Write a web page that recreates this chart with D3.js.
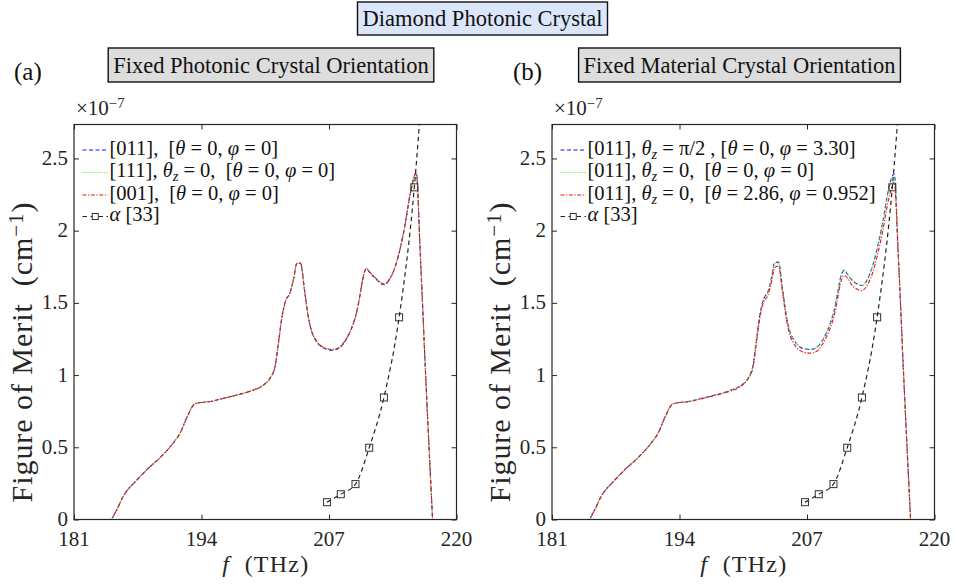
<!DOCTYPE html>
<html>
<head>
<meta charset="utf-8">
<script src="https://cdn.jsdelivr.net/npm/d3@7/dist/d3.min.js"></script>
<style>
  html, body { margin: 0; padding: 0; background: #fff; }
  svg { display: block; }
</style>
</head>
<body>
<svg id="chart" width="956" height="587"></svg>
<script>
// ---------------- DATA ----------------
const xTicks = [181, 194, 207, 220];
const yTicks = [0, 0.5, 1, 1.5, 2, 2.5];
const yTickLabels = ["0", "0.5", "1", "1.5", "2", "2.5"];

// frequency grid (THz) for the figure-of-merit curves
const freq = [181, 184.7, 185.3, 186.0, 187.4, 188.5, 189.8, 191.0, 191.8, 192.6, 193.3, 194.0, 194.9, 196.0,
  197.6, 199.0, 200.3, 201.0, 201.5, 201.8, 202.2, 202.6, 203.0, 203.4, 203.7, 204.1, 204.5, 204.9, 205.2,
  205.6, 206.1, 206.7, 207.3, 208.0, 208.5, 209.0, 209.5, 209.8, 210.1, 210.4, 210.8, 211.2, 211.5, 212.0,
  212.6, 213.2, 213.7, 214.2, 214.7, 215.3, 215.9, 216.3, 216.9, 217.56];

// panel (a): fixed photonic crystal orientation (x 1e-7 cm^-1)
const fomA011 = [0, 0, 0.06, 0.158, 0.273, 0.35, 0.43, 0.52, 0.596, 0.72, 0.80, 0.81, 0.817, 0.835,
  0.862, 0.89, 0.93, 0.98, 1.06, 1.20, 1.40, 1.52, 1.565, 1.67, 1.77, 1.775, 1.59, 1.40, 1.31,
  1.245, 1.202, 1.18, 1.172, 1.186, 1.22, 1.278, 1.36, 1.43, 1.53, 1.65, 1.737, 1.705, 1.685, 1.65,
  1.625, 1.665, 1.74, 1.86, 2.02, 2.26, 2.40, 1.85, 0.93, 0];
const fomA111 = [0, 0, 0.06, 0.158, 0.273, 0.35, 0.43, 0.52, 0.596, 0.72, 0.80, 0.81, 0.817, 0.835,
  0.862, 0.89, 0.93, 0.98, 1.06, 1.20, 1.40, 1.52, 1.565, 1.67, 1.77, 1.778, 1.59, 1.40, 1.31,
  1.25, 1.207, 1.185, 1.177, 1.19, 1.225, 1.282, 1.362, 1.43, 1.53, 1.65, 1.74, 1.71, 1.69, 1.655,
  1.63, 1.668, 1.742, 1.862, 2.02, 2.26, 2.402, 1.85, 0.93, 0];
const fomA001 = [0, 0, 0.06, 0.158, 0.273, 0.35, 0.43, 0.52, 0.596, 0.72, 0.80, 0.81, 0.817, 0.835,
  0.862, 0.89, 0.93, 0.98, 1.06, 1.20, 1.40, 1.52, 1.565, 1.67, 1.77, 1.776, 1.59, 1.40, 1.31,
  1.25, 1.207, 1.185, 1.177, 1.19, 1.225, 1.28, 1.36, 1.43, 1.53, 1.65, 1.738, 1.71, 1.69, 1.655,
  1.63, 1.668, 1.74, 1.86, 2.02, 2.26, 2.40, 1.85, 0.93, 0];

// panel (b): fixed material crystal orientation (x 1e-7 cm^-1)
const fomBpi2 = [0, 0, 0.06, 0.158, 0.273, 0.35, 0.43, 0.52, 0.596, 0.72, 0.80, 0.81, 0.817, 0.835,
  0.862, 0.89, 0.93, 0.98, 1.07, 1.22, 1.42, 1.53, 1.575, 1.68, 1.78, 1.782, 1.60, 1.41, 1.315,
  1.25, 1.205, 1.182, 1.177, 1.192, 1.232, 1.295, 1.385, 1.455, 1.56, 1.67, 1.725, 1.69, 1.665, 1.635,
  1.62, 1.67, 1.76, 1.89, 2.05, 2.28, 2.394, 1.85, 0.93, 0];
const fomB011 = [0, 0, 0.06, 0.158, 0.273, 0.35, 0.43, 0.52, 0.596, 0.72, 0.80, 0.81, 0.817, 0.835,
  0.862, 0.89, 0.93, 0.98, 1.065, 1.21, 1.41, 1.525, 1.57, 1.675, 1.772, 1.776, 1.595, 1.405, 1.315,
  1.252, 1.208, 1.186, 1.18, 1.195, 1.236, 1.298, 1.39, 1.46, 1.565, 1.675, 1.728, 1.695, 1.67, 1.64,
  1.622, 1.668, 1.755, 1.885, 2.045, 2.27, 2.38, 1.85, 0.93, 0];
const fomBrot = [0, 0, 0.06, 0.158, 0.273, 0.35, 0.43, 0.52, 0.596, 0.72, 0.80, 0.81, 0.815, 0.832,
  0.858, 0.885, 0.925, 0.975, 1.055, 1.20, 1.40, 1.51, 1.55, 1.65, 1.745, 1.755, 1.575, 1.385, 1.29,
  1.225, 1.18, 1.158, 1.152, 1.165, 1.205, 1.265, 1.35, 1.42, 1.52, 1.63, 1.69, 1.665, 1.63, 1.60,
  1.585, 1.63, 1.71, 1.835, 1.99, 2.21, 2.335, 1.83, 0.93, 0];

// alpha [33] reference points (last point only continues the dashed curve, clipped at axis top)
const alphaF = [206.8, 208.2, 209.7, 211.1, 212.6, 214.15, 215.7, 216.45];
const alphaV = [0.12, 0.175, 0.245, 0.497, 0.845, 1.40, 2.30, 2.95];

// ---------------- LAYOUT ----------------
const W = 382.5, H = 395, TOP = 124.5;
const yMax = 2.735;
const svg = d3.select("#chart");
const ink = "#262626";
const panels = [
  { ox: 74, id: "a", series: [fomA011, fomA111, fomA001] },
  { ox: 552, id: "b", series: [fomBpi2, fomB011, fomBrot] }
];
panels.forEach(p => {
  p.x = d3.scaleLinear().domain([181, 220]).range([p.ox, p.ox + W]);
  p.y = d3.scaleLinear().domain([0, yMax]).range([TOP + H, TOP]);
});

const seriesStyle = [
  { color: "#1010ff", dash: "4,2.5", width: 1.1 },
  { color: "#77ee44", dash: "1.2,1.2", width: 1.2 },
  { color: "#ee1111", dash: "4,1.6,1.2,1.6", width: 1.1 }
];
const rowOff = [25.5, 48, 70.5, 92];
const LX0 = 8.5, LX1 = 34;

// ---------------- TEXT ----------------
function addText(xp, yp, size, anchor) {
  return svg.append("text").attr("x", xp).attr("y", yp).attr("font-size", size)
    .attr("text-anchor", anchor || "start").attr("font-family", "Liberation Serif")
    .style("font-family", '"Liberation Serif"').style("white-space", "pre").style("fill", ink);
}
function rich(sel, parts) {
  parts.forEach(([t, s]) => {
    const ts = sel.append("tspan").text(t);
    if (s === "i") ts.style("font-style", "italic");
    if (s === "sub") ts.style("font-style", "italic").attr("font-size", "0.7em").attr("baseline-shift", "-0.25em");
    if (s === "sup") ts.attr("font-size", "0.7em").attr("baseline-shift", "0.45em");
  });
  return sel;
}

const headers = [
  { cx: 482.5, y0: 2, y1: 35, label: "Diamond Photonic Crystal", fill: "#dce6fa" },
  { cx: 271, y0: 48, y1: 82, label: "Fixed Photonic Crystal Orientation", fill: "#dddddd" },
  { cx: 739.5, y0: 48, y1: 82, label: "Fixed Material Crystal Orientation", fill: "#dddddd" }
];
headers.forEach(h => { h.node = addText(h.cx, h.y1 - 9, 22.5, "middle").style("fill", "#111").text(h.label); });
addText(14, 80, 25).style("fill", "#111").text("(a)");
addText(513, 80, 25).style("fill", "#111").text("(b)");

const legA = [
  [["[011],  [", ""], ["θ", "i"], [" = 0, ", ""], ["φ", "i"], [" = 0]", ""]],
  [["[111], ", ""], ["θ", "i"], ["z", "sub"], [" = 0,  [", ""], ["θ", "i"], [" = 0, ", ""], ["φ", "i"], [" = 0]", ""]],
  [["[001],  [", ""], ["θ", "i"], [" = 0, ", ""], ["φ", "i"], [" = 0]", ""]],
  [["α", "i"], [" [33]", ""]]
];
const legB = [
  [["[011], ", ""], ["θ", "i"], ["z", "sub"], [" = π/2 , [", ""], ["θ", "i"], [" = 0, ", ""], ["φ", "i"], [" = 3.30]", ""]],
  [["[011], ", ""], ["θ", "i"], ["z", "sub"], [" = 0,  [", ""], ["θ", "i"], [" = 0, ", ""], ["φ", "i"], [" = 0]", ""]],
  [["[011], ", ""], ["θ", "i"], ["z", "sub"], [" = 0,  [", ""], ["θ", "i"], [" = 2.86, ", ""], ["φ", "i"], [" = 0.952]", ""]],
  [["α", "i"], [" [33]", ""]]
];
panels[0].legend = legA;
panels[1].legend = legB;

panels.forEach(p => {
  const { ox, x, y } = p;
  xTicks.forEach(v => addText(x(v), TOP + H + 26, 21, "middle").text(String(v)));
  yTicks.forEach((v, i) => addText(ox - 6, y(v) + 6.5, 21, "end").text(yTickLabels[i]));
  p.legend.forEach((parts, k) => rich(addText(ox + LX1 + 1.5, TOP + rowOff[k] + 4.5, 20.5).style("fill", "#111"), parts));
  rich(addText(ox + 2, TOP - 10, 21), [["×10", ""], ["−7", "sup"]]);
  rich(addText(ox + W / 2, TOP + H + 52.5, 24, "middle").attr("textLength", 86).attr("lengthAdjust", "spacing"),
    [["f", "i"], ["  (THz)", ""]]);
  rich(addText(0, 0, 30, "middle").attr("transform", `translate(${ox - 42},${352.5}) rotate(-90)`)
    .attr("textLength", 300).attr("lengthAdjust", "spacing"),
    [["Figure of Merit  (cm", ""], ["−1", "sup"], [")", ""]]);
});

// ---------------- GRAPHICS ----------------
headers.forEach(h => {
  const bb = h.node.node().getBBox();
  svg.insert("rect", "text").attr("x", bb.x - 5).attr("y", h.y0).attr("width", bb.width + 10)
    .attr("height", h.y1 - h.y0).attr("fill", h.fill).attr("stroke", "#111").attr("stroke-width", 1.4);
});

const defs = svg.append("defs");
panels.forEach(p => {
  const { ox, id, x, y, series } = p;
  defs.append("clipPath").attr("id", "clip" + id).append("rect")
    .attr("x", ox).attr("y", TOP).attr("width", W).attr("height", H);

  // inward tick marks on all four sides
  const ax = svg.append("g");
  ax.append("g").attr("transform", `translate(0,${TOP + H})`)
    .call(d3.axisBottom(x).tickValues(xTicks).tickFormat("").tickSize(-5));
  ax.append("g").attr("transform", `translate(0,${TOP})`)
    .call(d3.axisTop(x).tickValues(xTicks).tickFormat("").tickSize(-5));
  ax.append("g").attr("transform", `translate(${ox},0)`)
    .call(d3.axisLeft(y).tickValues(yTicks).tickFormat("").tickSize(-5));
  ax.append("g").attr("transform", `translate(${ox + W},0)`)
    .call(d3.axisRight(y).tickValues(yTicks).tickFormat("").tickSize(-5));
  ax.selectAll(".domain").remove();
  ax.selectAll("text").remove();
  ax.selectAll("g").attr("font-family", null);
  ax.selectAll("line").attr("stroke", ink).attr("stroke-width", 1);

  // curves
  const lineGen = d3.line().x(d => x(d[0])).y(d => y(d[1])).curve(d3.curveMonotoneX);
  const plot = svg.append("g").attr("clip-path", `url(#clip${id})`);
  series.forEach((vals, k) => {
    const st = seriesStyle[k];
    plot.append("path").datum(freq.map((f, i) => [f, vals[i]]))
      .attr("d", lineGen).attr("fill", "none").attr("stroke", st.color)
      .attr("stroke-width", st.width).attr("stroke-dasharray", st.dash);
  });
  const alphaPts = alphaF.map((f, i) => [f, alphaV[i]]);
  plot.append("path").datum(alphaPts).attr("d", lineGen).attr("fill", "none")
    .attr("stroke", "#222").attr("stroke-width", 1.2).attr("stroke-dasharray", "4.5,3.5");
  plot.selectAll("rect.mk").data(alphaPts.filter(d => d[1] <= yMax)).enter().append("rect")
    .attr("class", "mk").attr("x", d => x(d[0]) - 3.5).attr("y", d => y(d[1]) - 3.5)
    .attr("width", 7).attr("height", 7).attr("fill", "none").attr("stroke", "#333").attr("stroke-width", 1);

  // box
  svg.append("rect").attr("x", ox).attr("y", TOP).attr("width", W).attr("height", H)
    .attr("fill", "none").attr("stroke", ink).attr("stroke-width", 1.2);

  // legend samples
  rowOff.forEach((off, k) => {
    const ly = TOP + off;
    if (k < 3) {
      const st = seriesStyle[k];
      svg.append("line").attr("x1", ox + LX0).attr("x2", ox + LX1).attr("y1", ly).attr("y2", ly)
        .attr("stroke", st.color).attr("stroke-width", st.width).attr("stroke-dasharray", st.dash);
    } else {
      svg.append("line").attr("x1", ox + LX0).attr("x2", ox + LX1).attr("y1", ly).attr("y2", ly)
        .attr("stroke", "#222").attr("stroke-width", 1.2).attr("stroke-dasharray", "4.5,3.5");
      svg.append("rect").attr("x", ox + (LX0 + LX1) / 2 - 3).attr("y", ly - 3).attr("width", 6).attr("height", 6)
        .attr("fill", "#fff").attr("stroke", "#333").attr("stroke-width", 1);
    }
  });
});
</script>
</body>
</html>
